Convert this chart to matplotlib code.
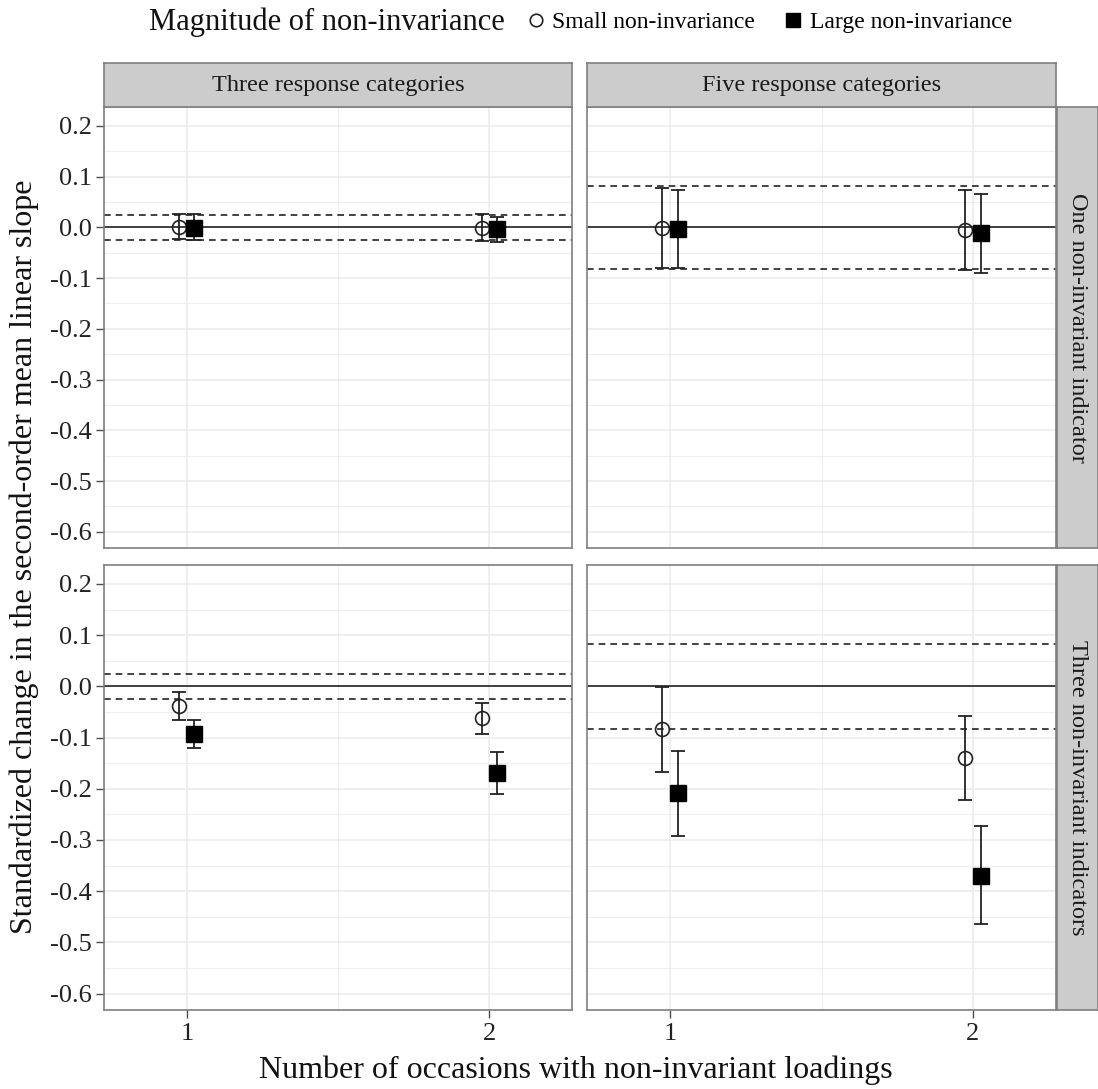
import numpy as np
import matplotlib
matplotlib.use("Agg")
import matplotlib.pyplot as plt
from matplotlib.lines import Line2D

plt.rcParams["font.family"] = ["Liberation Serif", "DejaVu Serif"]

# data
occasions = [1, 2]
col_labels = ["Three response categories", "Five response categories"]
row_labels = ["One non-invariant indicator", "Three non-invariant indicators"]
y_ticks = [-0.6, -0.5, -0.4, -0.3, -0.2, -0.1, 0.0, 0.1, 0.2]
y_tick_labels = ["-0.6", "-0.5", "-0.4", "-0.3", "-0.2", "-0.1", "0.0", "0.1", "0.2"]
ref_band = [[0.025, 0.082], [0.025, 0.083]]  # dashed +/- lines per panel

# [row][col] -> values per occasion
small_est = [[[0.001, -0.001], [-0.001, -0.005]],
             [[-0.039, -0.062], [-0.084, -0.139]]]
small_lo = [[[-0.024, -0.028], [-0.080, -0.085]],
            [[-0.066, -0.093], [-0.168, -0.222]]]
small_hi = [[[0.026, 0.026], [0.078, 0.074]],
            [[-0.011, -0.033], [-0.002, -0.057]]]
large_est = [[[-0.002, -0.004], [-0.003, -0.011]],
             [[-0.093, -0.170], [-0.209, -0.370]]]
large_lo = [[[-0.026, -0.030], [-0.080, -0.091]],
            [[-0.120, -0.211], [-0.292, -0.465]]]
large_hi = [[[0.026, 0.020], [0.074, 0.066]],
            [[-0.066, -0.129], [-0.127, -0.273]]]

W, H = 1098, 1089
fig = plt.figure(figsize=(W / 100, H / 100), dpi=100)


def box(x0, y0, x1, y1):
    return [x0 / W, 1 - y1 / H, (x1 - x0) / W, (y1 - y0) / H]


col_x = [(104, 572), (587, 1056)]
row_y = [(107, 548), (565, 1010)]
strip_top = (63, 107)
strip_right = (1057, 1098)
dodge = 0.025
grid_c = "#ebebeb"
ink = "#222222"


def strip(rect, label, rot):
    sa = fig.add_axes(rect)
    sa.set_facecolor("#cccccc")
    sa.set_xticks([])
    sa.set_yticks([])
    for s in sa.spines.values():
        s.set_color("#7f7f7f")
        s.set_linewidth(1.2)
    sa.text(0.5, 0.5, label, ha="center", va="center", fontsize=17.5,
            rotation=rot, color="#1a1a1a", transform=sa.transAxes)


for r in range(2):
    for c in range(2):
        ax = fig.add_axes(box(col_x[c][0], row_y[r][0], col_x[c][1], row_y[r][1]))
        ax.set_xlim(0.726, 2.274)
        ax.set_ylim(-0.632, 0.237)
        ax.set_yticks(y_ticks)
        ax.set_yticks(np.array(y_ticks[:-1]) + 0.05, minor=True)
        ax.set_xticks(occasions)
        ax.set_xticks([1.5], minor=True)
        ax.grid(True, which="major", color=grid_c, lw=1.1)
        ax.grid(True, which="minor", color=grid_c, lw=0.6)
        ax.set_axisbelow(True)
        for s in ax.spines.values():
            s.set_color("#7f7f7f")
            s.set_linewidth(1.2)
        ax.tick_params(which="minor", length=0)
        ax.tick_params(which="major", length=6, color="#4d4d4d", width=1,
                       labelsize=19, labelcolor=ink, pad=3)
        if c == 0:
            ax.set_yticklabels(y_tick_labels)
        else:
            ax.tick_params(axis="y", length=0, labelleft=False)
        if r == 1:
            ax.set_xticklabels([str(o) for o in occasions])
        else:
            ax.tick_params(axis="x", length=0, labelbottom=False)

        b = ref_band[r][c]
        ax.axhline(0, color=ink, lw=1.2)
        ax.axhline(b, color=ink, lw=1.2, ls=(0, (4, 3)))
        ax.axhline(-b, color=ink, lw=1.2, ls=(0, (4, 3)))

        xs = np.array(occasions) - dodge
        xl = np.array(occasions) + dodge
        se = np.array(small_est[r][c])
        le = np.array(large_est[r][c])
        ax.errorbar(xs, se, yerr=[se - np.array(small_lo[r][c]), np.array(small_hi[r][c]) - se],
                    fmt="none", ecolor=ink, elinewidth=1.3, capsize=5, capthick=1.3, zorder=3)
        ax.errorbar(xl, le, yerr=[le - np.array(large_lo[r][c]), np.array(large_hi[r][c]) - le],
                    fmt="none", ecolor=ink, elinewidth=1.3, capsize=5, capthick=1.3, zorder=3)
        ax.plot(xs, se, "o", ms=10, mfc="none", mec=ink, mew=1.2, zorder=4)
        ax.plot(xl, le, "s", ms=11, mfc="black", mec="black", zorder=4)

        if r == 0:
            strip(box(col_x[c][0], strip_top[0], col_x[c][1], strip_top[1]), col_labels[c], 0)
        if c == 1:
            strip(box(strip_right[0], row_y[r][0], strip_right[1], row_y[r][1]), row_labels[r], -90)

fig.text(576 / W, 1 - 1070 / H, "Number of occasions with non-invariant loadings",
         ha="center", va="center", fontsize=23, color="#111111")
fig.text(24 / W, 1 - 557 / H, "Standardized change in the second-order mean linear slope",
         ha="center", va="center", rotation=90, fontsize=23, color="#111111")

# legend
fig.text(505 / W, 1 - 22 / H, "Magnitude of non-invariance", ha="right", va="center",
         fontsize=22, color="#111111")
handles = [Line2D([], [], marker="o", ls="none", ms=9, mfc="none", mec=ink, mew=1.2),
           Line2D([], [], marker="s", ls="none", ms=10, mfc="black", mec="black")]
fig.legend(handles, ["Small non-invariance", "Large non-invariance"], loc="center left",
           bbox_to_anchor=(510 / W, 1 - 22 / H), ncol=2, frameon=False, fontsize=17,
           handletextpad=0.1, columnspacing=1.0, handlelength=1.2, borderpad=0)

fig.savefig("out.png", dpi=100)
